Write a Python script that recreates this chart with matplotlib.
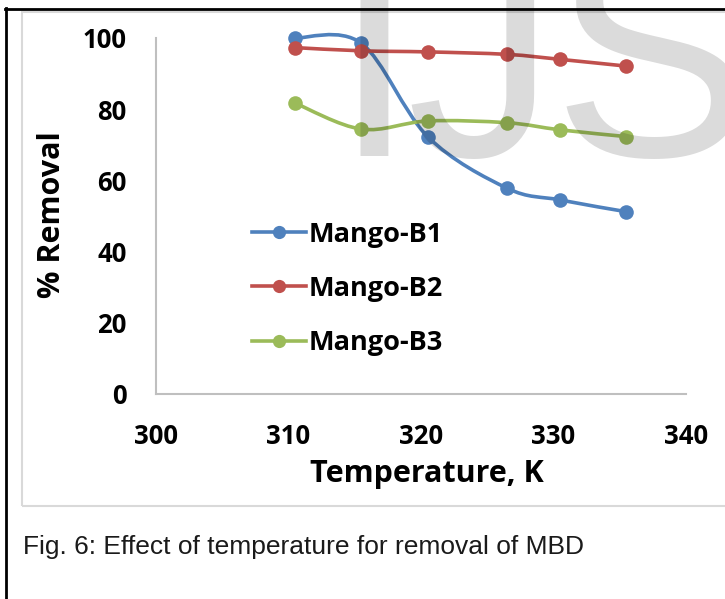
import numpy as np
import matplotlib
matplotlib.use("Agg")
import matplotlib.pyplot as plt
from matplotlib.path import Path
from matplotlib.patches import PathPatch, Rectangle
from matplotlib.lines import Line2D

# Temperature (K) and % removal for the three mango biosorbents
temperature = [310.5, 315.5, 320.5, 326.5, 330.5, 335.5]
mango_b1 = [100.0, 98.5, 72.3, 57.8, 54.5, 51.2]
mango_b2 = [97.3, 96.4, 96.1, 95.4, 94.0, 92.1]
mango_b3 = [81.7, 74.4, 76.7, 76.2, 74.2, 72.3]

series_names = ["Mango-B1", "Mango-B2", "Mango-B3"]
series_colors = ["#4F81BD", "#C0504D", "#9BBB59"]

x_ticks = [300, 310, 320, 330, 340]
y_ticks = [0, 20, 40, 60, 80, 100]

BOLD = "Open Sans"


def smooth_path(xs, ys):
    """Bezier path through the points, Excel-style smoothed line."""
    pts = np.column_stack([xs, ys]).astype(float)
    n = len(pts)
    verts = [pts[0]]
    codes = [Path.MOVETO]
    for i in range(n - 1):
        p0 = pts[max(i - 1, 0)]
        p1 = pts[i]
        p2 = pts[i + 1]
        p3 = pts[min(i + 2, n - 1)]
        c1 = p1 + (p2 - p0) / 6.0
        c2 = p2 - (p3 - p1) / 6.0
        verts += [c1, c2, p2]
        codes += [Path.CURVE4] * 3
    return Path(verts, codes)


fig = plt.figure(figsize=(7.25, 5.99), dpi=100)
fig.patch.set_facecolor("white")

W, H = 725.0, 599.0

# black page border and the light grey chart frame
fig.add_artist(Line2D([5 / W, 1.0], [1 - 9 / H, 1 - 9 / H], color="black", lw=2.0,
                      transform=fig.transFigure))
fig.add_artist(Line2D([6 / W, 6 / W], [1 - 8 / H, 0.0], color="black", lw=2.0,
                      transform=fig.transFigure))
fig.add_artist(Rectangle((22 / W, 1 - 506 / H), 1.0, (506 - 12) / H, fill=False,
                         edgecolor="#d9d9d9", lw=1.5, transform=fig.transFigure))

ax = fig.add_axes([156 / W, 1 - 394 / H, (686 - 156) / W, (394 - 38) / H])
ax.set_facecolor("none")

for ys, color in zip([mango_b1, mango_b2, mango_b3], series_colors):
    ax.add_patch(PathPatch(smooth_path(temperature, ys), fill=False, edgecolor=color,
                           lw=2.6, capstyle="round", joinstyle="round", zorder=2,
                           clip_on=False))
    ax.plot(temperature, ys, "o", color=color, markersize=10.5, markeredgewidth=0,
            zorder=3, clip_on=False)

ax.set_xlim(300, 340)
ax.set_ylim(0, 100)
ax.set_xticks(x_ticks)
ax.set_yticks(y_ticks)
ax.set_xticklabels([str(t) for t in x_ticks], fontfamily=BOLD, fontweight="bold",
                   fontsize=18.5)
ax.set_yticklabels([str(t) for t in y_ticks], fontfamily=BOLD, fontweight="bold",
                   fontsize=18.5)
ax.tick_params(axis="x", length=0, pad=21)
ax.tick_params(axis="y", length=0, pad=21)

for side in ["top", "right"]:
    ax.spines[side].set_visible(False)
for side in ["left", "bottom"]:
    ax.spines[side].set_color("#bfbfbf")
    ax.spines[side].set_linewidth(1.5)

ax.set_xlabel("Temperature, K", fontfamily=BOLD, fontweight="bold", fontsize=22)
ax.set_ylabel("% Removal", fontfamily=BOLD, fontweight="bold", fontsize=22)
ax.xaxis.set_label_coords(0.511, -0.1826)
ax.yaxis.set_label_coords(-0.168, 0.504)

handles = [Line2D([], [], color=c, lw=2.6, marker="o", markersize=9.5,
                  markeredgewidth=0) for c in series_colors]
ax.legend(handles, series_names, loc="upper left",
          bbox_to_anchor=(238 / W, 1 - 208 / H), bbox_transform=fig.transFigure,
          frameon=False, handlelength=2.0, handletextpad=0.1,
          labelspacing=1.05, borderpad=0,
          prop={"family": BOLD, "weight": "bold", "size": 19.5})

# faint IJS watermark laid over the plot
for letter, xc in zip("IJS", [374, 481, 652]):
    fig.text(xc / W, 1 - 156 / H, letter, ha="center", va="baseline",
             fontfamily="Liberation Sans", fontsize=215, color="black", alpha=0.14,
             zorder=10)

fig.text(23 / W, 1 - 554 / H, "Fig. 6: Effect of temperature for removal of MBD",
         ha="left", va="baseline", fontfamily="Liberation Sans", fontsize=19,
         color="#1a1a1a")

fig.savefig("out.png", dpi=100, facecolor="white")
